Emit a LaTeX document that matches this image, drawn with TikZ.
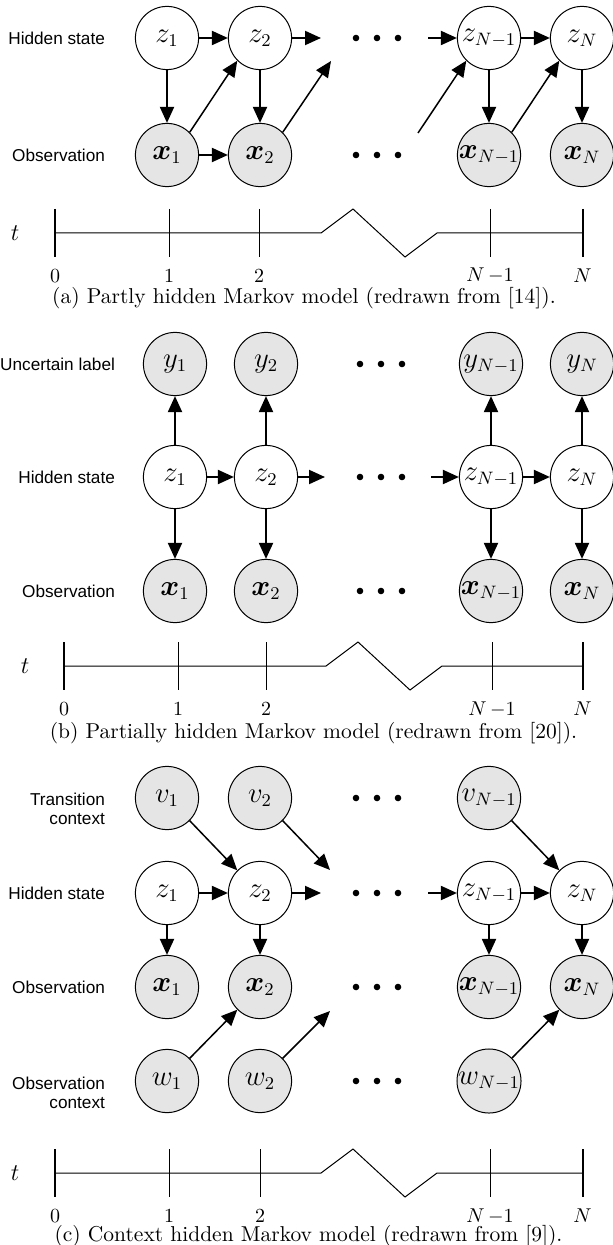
\documentclass[tikz,border=0pt]{standalone}
\usepackage{fontspec}
\usepackage{amsmath,bm}
\usetikzlibrary{arrows.meta}
\newfontfamily\labelfont{Liberation Sans}

\tikzset{
  hidden/.style={circle, draw, line width=0.5pt, minimum size=31.6pt, inner sep=0pt,
                 font=\fontsize{13.5}{15}\selectfont},
  observed/.style={hidden, fill=gray!20},
  edge/.style={-{Triangle[length=8pt,width=7pt]}, line width=1pt},
  skew/.style={edge, line width=0.75pt},
  rowlabel/.style={anchor=east, align=right, font=\labelfont\fontsize{8.6}{9.5}\selectfont},
  ticklabel/.style={inner sep=0pt, font=\fontsize{10}{12}\selectfont},
  capt/.style={inner sep=0pt, font=\fontsize{10.75}{13}\selectfont}
}

\newcommand{\ellipsisrow}[2]{\foreach \d in {-21,0,21}{\fill (#1+\d,#2) circle (3.3);}}

% #1 name, #2 y, #3-#5 ticks 0,1,2, #6 zigzag start, #7 N-1, #8 N, #9 x of t
\newcommand{\timeaxis}[9]{%
  \node[font=\fontsize{11.5}{13}\selectfont] (#1t) at (#9,#2) {$t$};
  \draw[line width=0.5pt] (#3,#2) -- (#6,#2) -- ++(32,-24) -- ++(52,48) -- ++(32,-24) -- (#8,#2);
  \foreach \p/\q/\w [count=\i] in {#3/0/1pt, #4/1/0.5pt, #5/2/0.5pt, #7/N\,{-}1/0.5pt, #8/N/1pt}{
    \draw[line width=\w] (\p,#2-24) -- (\p,#2+24);
    \node[ticklabel] (#1\i) at (\p,#2+43) {$\q$};
  }
}

\begin{document}
\begin{tikzpicture}[x=0.5pt, y=-0.5pt]
\useasboundingbox (0,0) rectangle (613,1245);

% (a)
\node[rowlabel] (la1) at (112,38) {Hidden state};
\node[rowlabel] (la2) at (112,155) {Observation};
\foreach \c/\x/\s in {1/167/1, 2/260/2, 3/489/N-1, 4/582/N}{
  \node[hidden] (za\c) at (\x,38) {$z_{\s}$};
  \node[observed] (xa\c) at (\x,155) {$\bm{x}_{\s}$};
  \draw[edge] (za\c) -- (xa\c);
}
\coordinate (ea1) at (321,38);
\coordinate (sa1) at (428,38);
\coordinate (ea2) at (331,61);
\coordinate (sa2) at (418,133);
\draw[edge] (za1) -- (za2);
\draw[edge] (za2) -- (ea1);
\draw[edge] (sa1) -- (za3);
\draw[edge] (za3) -- (za4);
\draw[edge] (xa1) -- (xa2);
\draw[skew] (xa1.45) -- (za2.225);
\draw[skew] (xa2.45) -- (ea2);
\draw[skew] (sa2) -- (za3.225);
\draw[skew] (xa3.45) -- (za4.225);
\ellipsisrow{377}{38}
\ellipsisrow{377}{155}
\timeaxis{axa}{233}{55}{169}{259}{321}{490}{582.5}{15}
\node[capt] (capa) at (304,298) {(a) Partly hidden Markov model (redrawn from [14]).};

% (b)
\node[rowlabel] (lb1) at (122,364) {Uncertain label};
\node[rowlabel] (lb2) at (122,477) {Hidden state};
\node[rowlabel] (lb3) at (122,591) {Observation};
\foreach \c/\x/\s in {1/175/1, 2/266/2, 3/491/N-1, 4/582/N}{
  \node[observed] (yb\c) at (\x,364) {$y_{\s}$};
  \node[hidden] (zb\c) at (\x,477) {$z_{\s}$};
  \node[observed] (xb\c) at (\x,591) {$\bm{x}_{\s}$};
  \draw[edge] (zb\c) -- (yb\c);
  \draw[edge] (zb\c) -- (xb\c);
}
\coordinate (eb1) at (325,477);
\coordinate (sb1) at (431,477);
\draw[edge] (zb1) -- (zb2);
\draw[edge] (zb2) -- (eb1);
\draw[edge] (sb1) -- (zb3);
\draw[edge] (zb3) -- (zb4);
\ellipsisrow{381}{364}
\ellipsisrow{381}{477}
\ellipsisrow{381}{591}
\timeaxis{axb}{666}{64}{178}{266}{326}{492}{582.5}{25}
\node[capt] (capb) at (313.5,733) {(b) Partially hidden Markov model (redrawn from [20]).};

% (c)
\node[rowlabel] (lc1) at (112,809) {Transition\\context};
\node[rowlabel] (lc2) at (112,893) {Hidden state};
\node[rowlabel] (lc3) at (112,987) {Observation};
\node[rowlabel] (lc4) at (112,1093) {Observation\\context};
\foreach \c/\x/\s in {1/167/1, 2/260/2, 3/489/N-1}{
  \node[observed] (vc\c) at (\x,798) {$v_{\s}$};
  \node[observed] (wc\c) at (\x,1081) {$w_{\s}$};
}
\foreach \c/\x/\s in {1/167/1, 2/260/2, 3/489/N-1, 4/582/N}{
  \node[hidden] (zc\c) at (\x,893) {$z_{\s}$};
  \node[observed] (xc\c) at (\x,987) {$\bm{x}_{\s}$};
  \draw[edge] (zc\c) -- (xc\c);
}
\coordinate (ec1) at (321,893);
\coordinate (sc1) at (428,893);
\coordinate (ec2) at (330,870);
\coordinate (ec3) at (330,1011);
\draw[edge] (zc1) -- (zc2);
\draw[edge] (zc2) -- (ec1);
\draw[edge] (sc1) -- (zc3);
\draw[edge] (zc3) -- (zc4);
\draw[skew] (vc1.-45) -- (zc2.135);
\draw[skew] (vc2.-45) -- (ec2);
\draw[skew] (vc3.-45) -- (zc4.135);
\draw[skew] (wc1.45) -- (xc2.225);
\draw[skew] (wc2.45) -- (ec3);
\draw[skew] (wc3.45) -- (xc4.225);
\foreach \r in {798,893,987,1081}{\ellipsisrow{377}{\r}}
\timeaxis{axc}{1173}{55}{169}{260}{321}{490}{582.5}{15}
\node[capt] (capc) at (308.5,1236) {(c) Context hidden Markov model (redrawn from [9]).};
\end{tikzpicture}
\end{document}
